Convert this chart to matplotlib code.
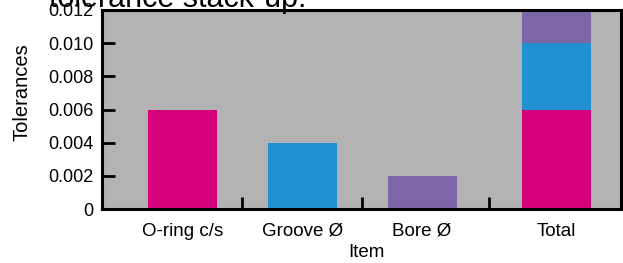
import matplotlib
matplotlib.use("Agg")
import matplotlib.pyplot as plt
import numpy as np

plt.rcParams['font.family'] = ['Liberation Sans', 'DejaVu Sans']

# data
categories = ["O-ring c/s", "Groove Ø", "Bore Ø", "Total"]
oring = [0.006, 0, 0, 0.006]
groove = [0, 0.004, 0, 0.004]
bore = [0, 0, 0.002, 0.002]
yticks = [0, 0.002, 0.004, 0.006, 0.008, 0.010, 0.012]
ytick_labels = ["0", "0.002", "0.004", "0.006", "0.008", "0.010", "0.012"]

# layout
pos = np.array([0, 1, 2, 3.12])
width = 0.575
c_pink = "#D6007A"
c_blue = "#2291D1"
c_purple = "#7E65A8"
c_bg = "#B3B3B3"

fig = plt.figure(figsize=(6.23, 2.63), dpi=100)
ax = fig.add_axes([0.1637, 0.2053, 0.997 - 0.1637, 0.962 - 0.2053])
ax.set_facecolor(c_bg)

b1 = np.array(oring)
b2 = b1 + np.array(groove)
ax.bar(pos, oring, width=width, color=c_pink, linewidth=0)
ax.bar(pos, groove, width=width, bottom=b1, color=c_blue, linewidth=0)
ax.bar(pos, bore, width=width, bottom=b2, color=c_purple, linewidth=0)

ax.set_xlim(-0.67, 3.66)
ax.set_ylim(0, 0.012)

ax.set_yticks(yticks)
ax.set_yticklabels(ytick_labels, fontsize=13)
ax.tick_params(axis='y', direction='in', length=9, width=2, pad=6)

mids = (pos[:-1] + pos[1:]) / 2
ax.set_xticks(mids)
ax.set_xticklabels([])
ax.tick_params(axis='x', which='major', direction='in', length=9, width=2)
ax.set_xticks(pos, minor=True)
ax.set_xticklabels(categories, minor=True, fontsize=13.5)
ax.tick_params(axis='x', which='minor', length=0, pad=10)

for s in ax.spines.values():
    s.set_linewidth(2.2)
    s.set_color("black")

ax.set_xlabel("Item", fontsize=13.5)
ax.xaxis.label.set_va('center')
ax.xaxis.set_label_coords(0.51, -0.221)
ax.set_ylabel("Tolerances", fontsize=14.5)
ax.yaxis.label.set_va('center')
ax.yaxis.set_label_coords(-0.154, 0.588)

fig.text(49 / 623, 1 - 7 / 263, "tolerance stack-up.", fontsize=22,
         ha='left', va='baseline')

fig.savefig("out.png", dpi=100)
